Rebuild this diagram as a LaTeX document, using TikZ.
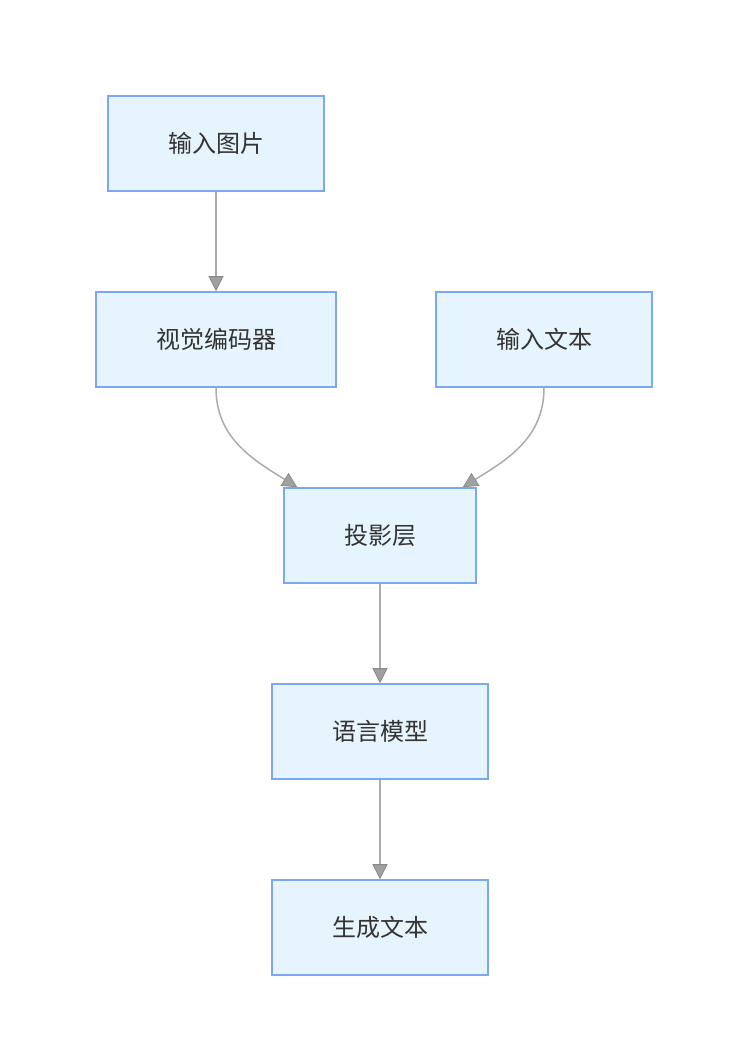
\documentclass[tikz,border=0pt]{standalone}
\usepackage{fontspec}
\setmainfont{Noto Sans CJK SC}
\usetikzlibrary{arrows.meta}
\definecolor{boxfill}{HTML}{E6F5FD}
\definecolor{boxline}{HTML}{7BA8F5}
\definecolor{linkgray}{HTML}{ABABAB}
\definecolor{tipgray}{HTML}{A0A0A0}
\definecolor{tipedge}{HTML}{8A8A8A}
\definecolor{txtgray}{HTML}{333333}
\tikzset{
  stage/.style={draw=boxline,fill=boxfill,line width=1.5pt,minimum height=95pt,
    text=txtgray,font=\fontsize{24}{28}\selectfont,inner sep=0pt},
  link/.style={draw=linkgray,line width=1.5pt,
    -{Triangle[width=15pt,length=15pt,fill=tipgray,color=tipedge,line width=0.8pt]}}
}
\begin{document}
\begin{tikzpicture}[x=1pt,y=1pt]
\useasboundingbox (0,0) rectangle (742,1048);
\node[stage,minimum width=216pt] (img) at (216,904.5) {输入图片};
\node[stage,minimum width=240pt] (enc) at (216,708.5) {视觉编码器};
\node[stage,minimum width=216pt] (txt) at (544,708.5) {输入文本};
\node[stage,minimum width=192pt] (proj) at (380,512.5) {投影层};
\node[stage,minimum width=216pt] (lm) at (380,316.5) {语言模型};
\node[stage,minimum width=216pt] (gen) at (380,120.5) {生成文本};
\coordinate (projL) at ([xshift=14pt]proj.north west);
\coordinate (projR) at ([xshift=-14pt]proj.north east);
% links
\draw[link] (img) -- (enc);
\draw[link] (enc.south) .. controls +(0,-50) and +(-45,28) .. (projL);
\draw[link] (txt.south) .. controls +(0,-50) and +(45,28) .. (projR);
\draw[link] (proj) -- (lm);
\draw[link] (lm) -- (gen);
\end{tikzpicture}
\end{document}
